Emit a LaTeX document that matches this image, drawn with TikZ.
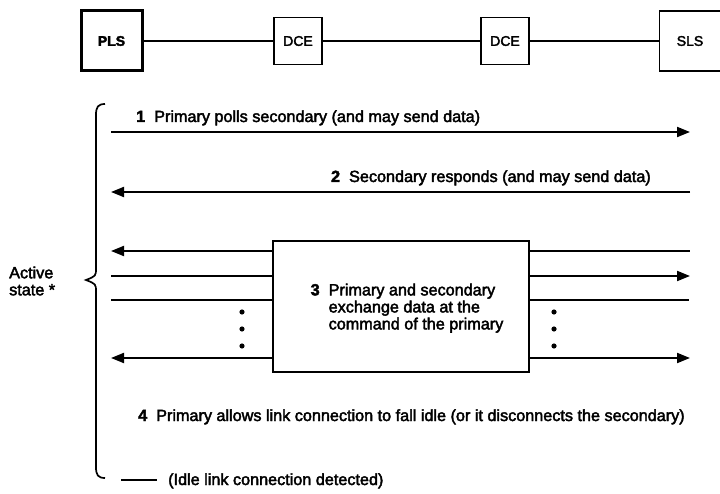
\documentclass[tikz,border=0pt]{standalone}
\usepackage{fontspec}
\setmainfont{Liberation Sans}
\newfontfamily\mediumfont{Liberation Sans}[FakeBold=2.5]
\usetikzlibrary{arrows.meta}

\begin{document}
\begin{tikzpicture}[x=1pt, y=-1pt, node distance=186pt, font=\mediumfont\fontsize{16.2}{17}\selectfont]
\tikzstyle{station} = [rectangle, minimum width=61pt, minimum height=60pt, draw=black, line width=1.8pt, font=\mediumfont\fontsize{14}{16}\selectfont]

\tikzstyle{modem} = [rectangle, minimum width=48pt, minimum height=47pt, draw=black, line width=1.5pt, font=\mediumfont\fontsize{14}{16}\selectfont]

\tikzstyle{exchange} = [rectangle, minimum width=256pt, minimum height=131pt, draw=black, line width=1.5pt]
\tikzstyle{caption} = [inner sep=0pt, anchor=base west]
\tikzstyle{link} = [line width=2.6pt]
\tikzstyle{flow} = [line width=2pt]
\tikzstyle{arrow} = [line width=2pt, -{Triangle[length=13pt,width=10pt]}]

\useasboundingbox (0,0) rectangle (720,494);

% stations and modems along the link
\node (pls) [station, line width=3pt] at (111.5,41) {\textbf{PLS}};
\node (dce1) [modem, right of=pls, xshift=0.5pt] {DCE};
\node (dce2) [modem, right of=dce1, xshift=21pt] {DCE};
\node (sls) [station, right of=dce2, xshift=-1pt] {SLS};

\draw [link] (pls) -- (dce1);
\draw [link] (dce1) -- (dce2);
\draw [link] (dce2) -- (sls);

% 1 and 2
\node (poll) [caption] at (136,122) {\textbf{1}\ \ Primary polls secondary (and may send data)};
\coordinate (w1) at (111,132);
\coordinate (e1) at (690,132);
\draw [arrow] (w1) -- (e1);

\node (resp) [caption, anchor=base east] at (651,182) {\textbf{2}\ \ Secondary responds (and may send data)};
\coordinate (w2) at (111,192);
\coordinate (e2) at (690,192);
\draw [arrow] (e2) -- (w2);

% 3
\node (xchg) [exchange] at (401,306.5) {};
\node (xtext) [inner sep=0pt] at (407,309) {%
\begin{tabular}{@{}l@{\ \ }l@{}}
\textbf{3} & Primary and secondary\\
 & exchange data at the\\
 & command of the primary
\end{tabular}};

\coordinate (wa) at (111,251);
\coordinate (ea) at (690,251);
\coordinate (wb) at (111,276);
\coordinate (eb) at (690,276);
\coordinate (wc) at (111,300);
\coordinate (ec) at (689,300);
\coordinate (wd) at (111,358);
\coordinate (ed) at (690,358);

\draw [arrow] (xchg.west |- wa) -- (wa);
\draw [flow] (xchg.east |- ea) -- (ea);
\draw [flow] (xchg.west |- wb) -- (wb);
\draw [arrow] (xchg.east |- eb) -- (eb);
\draw [flow] (xchg.west |- wc) -- (wc);
\draw [flow] (xchg.east |- ec) -- (ec);
\draw [arrow] (xchg.west |- wd) -- (wd);
\draw [arrow] (xchg.east |- ed) -- (ed);

\foreach \y in {312,329,346} {
  \fill (242,\y) circle (2.6pt);
  \fill (554,\y) circle (2.6pt);
}

% 4
\node (idle) [caption] at (138,421) {\textbf{4}\ \ Primary allows link connection to fall idle (or it disconnects the secondary)};

\coordinate (dashw) at (121,480);
\coordinate (dashe) at (157,480);
\draw [flow, line width=1.6pt] (dashw) -- (dashe);
\node (detect) [caption] at (168,485) {(Idle link connection detected)};

% brace over the active state
\draw [line width=1.7pt] (105,104) .. controls (98,104) and (96,107) .. (96,115)
  -- (96,268) .. controls (96,276) .. (86,280) .. controls (96,284) .. (96,292)
  -- (96,467) .. controls (96,475) and (98,478) .. (105,478);
\node (active) [inner sep=0pt, anchor=west, align=left] at (9,281) {Active\\state *};

\end{tikzpicture}
\end{document}
